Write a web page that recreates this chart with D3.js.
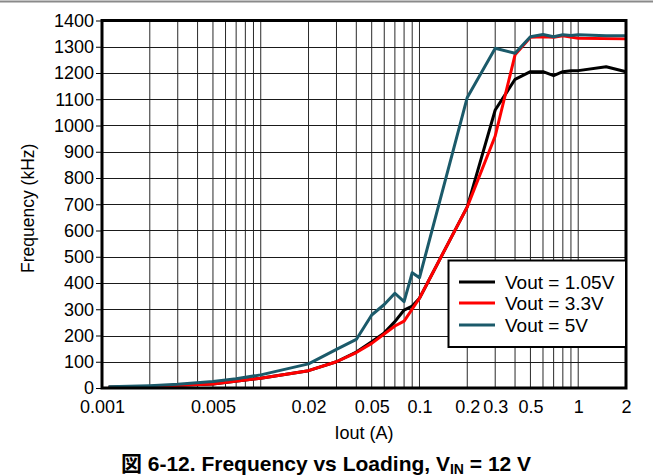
<!DOCTYPE html>
<html><head><meta charset="utf-8">
<script src="https://cdn.jsdelivr.net/npm/d3@7"></script>
<style>
html,body{margin:0;padding:0;background:#fff;}
svg{display:block;font-family:"Liberation Sans",Arial,"Noto Sans CJK JP",sans-serif;}
</style></head>
<body>
<svg id="c" width="653" height="476"></svg>
<script>
// Data
const xTeal = [0.0011,0.002,0.003,0.005,0.007,0.01,0.02,0.03,0.04,0.05,0.06,0.07,0.08,0.09,0.1,0.2,0.3,0.4,0.5,0.6,0.7,0.8,0.9,1,1.5,2];
const vTeal = [5,9,14,25,35,50,92,147,185,278,318,361,329,439,420,1107,1294,1275,1338,1347,1338,1346,1343,1346,1342,1342];
const xRed = [0.0011,0.002,0.005,0.01,0.02,0.03,0.04,0.05,0.07,0.08,0.1,0.2,0.3,0.4,0.5,0.6,0.7,0.8,1,2];
const vRed = [3,6,15,37,66,100,135,170,236,255,342,690,960,1269,1336,1338,1336,1342,1332,1330];
const xBlack = [0.0011,0.002,0.005,0.01,0.02,0.03,0.04,0.05,0.06,0.07,0.08,0.09,0.1,0.2,0.3,0.4,0.5,0.6,0.7,0.8,0.9,1,1.5,2];
const vBlack = [3,6,15,37,66,100,137,176,210,253,297,312,342,690,1059,1176,1205,1205,1190,1205,1209,1209,1224,1205];
const xTickLabels = [0.001,0.005,0.02,0.05,0.1,0.2,0.3,0.5,1,2];
const yTicks = d3.range(0,1401,100);
const seriesNames = ["Vout = 1.05V","Vout = 3.3V","Vout = 5V"];
const seriesColors = ["#000000","#ff0000","#1b5a6a"];

const svg = d3.select("#c");
const L=102, R=626, T=20.5, B=388;
const x = d3.scaleLog().domain([0.001,2]).range([L,R]);
const y = d3.scaleLinear().domain([0,1400]).range([B,T]);

// top rule
svg.append("line").attr("x1",0).attr("x2",653).attr("y1",1.5).attr("y2",1.5).attr("stroke","#8a8a8a").attr("stroke-width",2);

// grid
const gx = [];
for (let d=0.001; d<2; d*=10) for (let k=1;k<10;k++){ const v=d*k; if (v>0.0011 && v<1.99) gx.push(v);}
svg.append("g").selectAll("line").data(gx).join("line")
  .attr("x1",d=>x(d)).attr("x2",d=>x(d)).attr("y1",T).attr("y2",B)
  .attr("stroke","#2a2a2a").attr("stroke-width",1);
svg.append("g").selectAll("line").data(yTicks.slice(1,-1)).join("line")
  .attr("x1",L).attr("x2",R).attr("y1",d=>Math.round(y(d))+0.5).attr("y2",d=>Math.round(y(d))+0.5)
  .attr("stroke","#1a1a1a").attr("stroke-width",1);

// y axis
const ya = d3.axisLeft(y).tickValues(yTicks).tickSize(6).tickPadding(2).tickFormat(d3.format("d"));
const gy = svg.append("g").attr("transform",`translate(${L},0)`).call(ya);
gy.select(".domain").remove();
gy.selectAll("line").attr("stroke","#000").attr("stroke-width",1);
gy.selectAll("text").attr("font-size",18).attr("fill","#000").attr("font-family","Liberation Sans, Arial, sans-serif");

// x axis
const xa = d3.axisBottom(x).tickValues(xTickLabels).tickSize(0).tickPadding(12).tickFormat(d=>String(d));
const gxa = svg.append("g").attr("transform",`translate(0,${B})`).call(xa);
gxa.select(".domain").remove();
gxa.selectAll("text").attr("font-size",18).attr("fill","#000").attr("font-family","Liberation Sans, Arial, sans-serif");

// lines
const line = d3.line().x(d=>x(d[0])).y(d=>y(d[1]));
const data = [d3.zip(xBlack,vBlack), d3.zip(xRed,vRed), d3.zip(xTeal,vTeal)];
data.forEach((d,i)=>{
  svg.append("path").datum(d).attr("d",line).attr("fill","none")
    .attr("stroke",seriesColors[i]).attr("stroke-width",3).attr("stroke-linejoin","round");
});

// frame
svg.append("rect").attr("x",L).attr("y",T).attr("width",R-L).attr("height",B-T)
  .attr("fill","none").attr("stroke","#000").attr("stroke-width",3);

// legend
const lg = svg.append("g");
lg.append("rect").attr("x",448.5).attr("y",260.5).attr("width",R-448.5).attr("height",86.5)
  .attr("fill","#fff").attr("stroke","#000").attr("stroke-width",2);
const ly = [282,303,325];
seriesNames.forEach((n,i)=>{
  lg.append("line").attr("x1",459).attr("x2",495).attr("y1",ly[i]).attr("y2",ly[i])
    .attr("stroke",seriesColors[i]).attr("stroke-width",3);
  lg.append("text").attr("x",505).attr("y",ly[i]+6.5).attr("font-size",19).attr("fill","#000").text(n);
});

// axis titles
svg.append("text").attr("transform",`translate(34,${(T+B)/2+4}) rotate(-90)`)
  .attr("text-anchor","middle").attr("font-size",17.5).attr("fill","#000").text("Frequency (kHz)");
svg.append("text").attr("x",364).attr("y",439).attr("text-anchor","middle")
  .attr("font-size",18).attr("fill","#000").text("Iout (A)");

// caption
const cap = svg.append("text").attr("x",326).attr("y",471).attr("text-anchor","middle")
  .attr("font-size",21).attr("font-weight","bold").attr("fill","#000");
cap.append("tspan").text("図 6-12. Frequency vs Loading, V");
cap.append("tspan").attr("font-size",14).attr("dy",3).text("IN");
cap.append("tspan").attr("dy",-3).text(" = 12 V");
</script>
</body></html>
